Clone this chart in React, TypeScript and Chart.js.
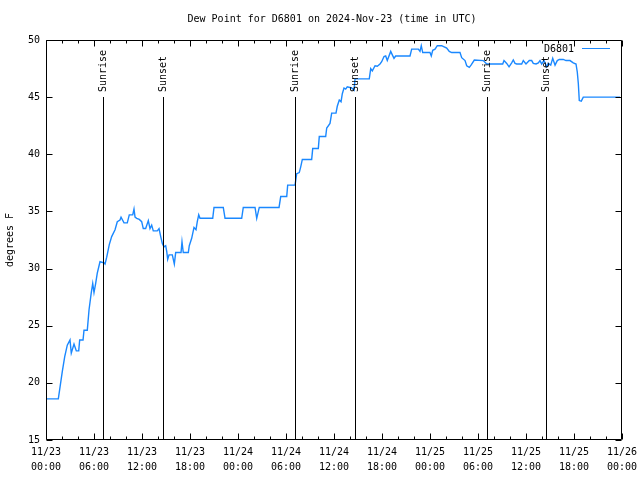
import React, { useEffect, useRef } from "react";
import { Chart, registerables } from "chart.js";

Chart.register(...registerables);

// ---- data (hours since 2024-11-23 00:00 UTC) ----
const hours = [
  0, 1.54, 2.04, 2.34, 2.66, 3.0, 3.16, 3.5, 3.79, 4.09,
  4.21, 4.63, 4.75, 5.16, 5.38, 5.66, 5.84, 6.0, 6.21, 6.41,
  6.75, 7.25, 7.38, 7.59, 7.91, 8.21, 8.63, 8.91, 9.25, 9.38,
  9.75, 10.16, 10.41, 10.84, 11.0, 11.13, 11.34, 11.66, 11.96, 12.16,
  12.46, 12.79, 13.0, 13.21, 13.41, 13.91, 14.13, 14.34, 14.54, 14.75,
  14.96, 15.09, 15.21, 15.38, 15.79, 16.04, 16.21, 16.88, 17.0, 17.16,
  17.79, 17.91, 18.21, 18.5, 18.75, 18.91, 19.09, 19.25, 20.84, 21.0,
  22.16, 22.38, 24.46, 24.66, 26.13, 26.34, 26.66, 29.13, 29.34, 30.09,
  30.21, 31.13, 31.34, 31.66, 31.84, 32.04, 33.21, 33.34, 34.04, 34.16,
  34.96, 35.09, 35.5, 35.71, 36.25, 36.41, 36.66, 36.88, 37.04, 37.25,
  37.46, 37.66, 38.21, 38.5, 38.63, 40.41, 40.59, 40.79, 41.13, 41.41,
  41.75, 41.96, 42.25, 42.46, 42.66, 43.09, 43.29, 43.5, 43.71, 45.5,
  45.71, 46.54, 46.75, 46.91, 47.09, 48.0, 48.16, 48.34, 48.63, 48.91,
  49.46, 50.09, 50.41, 50.71, 51.75, 51.96, 52.38, 52.59, 52.91, 53.13,
  53.54, 54.66, 55.09, 55.5, 57.09, 57.25, 57.59, 57.88, 58.21, 58.41,
  58.63, 58.84, 59.46, 59.66, 60.0, 60.41, 60.71, 60.91, 61.25, 61.54,
  61.75, 61.96, 62.25, 62.59, 62.79, 63.09, 63.34, 63.63, 63.91, 64.16,
  64.66, 65.0, 65.5, 65.91, 66.25, 66.41, 66.54, 66.66, 66.91, 67.16,
  71.75,
];

const dewPoint = [
  18.6, 18.6, 21.0, 22.3, 23.3, 23.75, 22.6, 23.4, 22.8, 22.8,
  23.75, 23.75, 24.6, 24.6, 26.4, 27.9, 28.7, 27.9, 28.7, 29.6,
  30.6, 30.5, 30.4, 31.0, 32.1, 32.8, 33.4, 34.1, 34.25, 34.5,
  34.0, 34.0, 34.7, 34.7, 35.2, 34.5, 34.4, 34.3, 34.1, 33.5,
  33.5, 34.2, 33.5, 33.8, 33.3, 33.3, 33.5, 32.8, 32.2, 31.9,
  32.0, 31.5, 30.8, 31.2, 31.2, 30.4, 31.4, 31.4, 32.35, 31.4,
  31.4, 32.0, 32.65, 33.6, 33.4, 34.1, 34.7, 34.4, 34.4, 35.35,
  35.35, 34.4, 34.4, 35.35, 35.35, 34.4, 35.35, 35.35, 36.3, 36.3,
  37.3, 37.3, 38.3, 38.4, 38.9, 39.55, 39.55, 40.5, 40.5, 41.55,
  41.55, 42.3, 42.7, 43.6, 43.6, 44.2, 44.75, 44.6, 45.3, 45.8,
  45.7, 45.9, 45.8, 45.6, 46.6, 46.6, 47.5, 47.3, 47.75, 47.7,
  47.9, 48.1, 48.55, 48.6, 48.2, 49.0, 48.7, 48.4, 48.6, 48.6,
  49.2, 49.2, 49.0, 49.5, 48.9, 48.9, 48.6, 49.1, 49.2, 49.5,
  49.5, 49.3, 49.0, 48.9, 48.9, 48.45, 48.2, 47.75, 47.6, 47.8,
  48.25, 48.2, 47.9, 47.9, 47.9, 48.2, 47.95, 47.65, 48.0, 48.25,
  47.95, 47.9, 47.9, 48.2, 47.9, 48.2, 48.2, 47.95, 47.9, 48.0,
  48.2, 47.9, 48.2, 47.65, 47.95, 47.8, 48.4, 47.8, 48.2, 48.3,
  48.3, 48.2, 48.2, 48.0, 47.9, 47.2, 46.2, 44.7, 44.65, 45.0,
  45.0,
];

const xTickHours = [0, 6, 12, 18, 24, 30, 36, 42, 48, 54, 60, 66, 72];
const xTickDates = ["11/23", "11/23", "11/23", "11/23", "11/24", "11/24", "11/24", "11/24", "11/25", "11/25", "11/25", "11/25", "11/26"];
const xTickTimes = ["00:00", "06:00", "12:00", "18:00", "00:00", "06:00", "12:00", "18:00", "00:00", "06:00", "12:00", "18:00", "00:00"];
const xMinorStepHours = 2;
const yTicks = [15, 20, 25, 30, 35, 40, 45, 50];

const sunEventHours = [7.15, 14.65, 31.15, 38.65, 55.15, 62.55];
const sunEventLabels = ["Sunrise", "Sunset", "Sunrise", "Sunset", "Sunrise", "Sunset"];
const sunLineTopValue = 45;

const seriesName = "D6801";
const chartTitle = "Dew Point for D6801 on 2024-Nov-23 (time in UTC)";
const yAxisTitle = "degrees F";

const FONT_FAMILY = "'DejaVu Sans Mono', 'Liberation Mono', monospace";
const LINE_COLOR = "#1a88ff";

const decorPlugin = {
  id: "gnuplotDecor",
  afterDraw(chart: any) {
    const ctx = chart.ctx as CanvasRenderingContext2D;
    const area = chart.chartArea;
    const xs = chart.scales.x;
    const ys = chart.scales.y;
    const c = (v: number) => Math.round(v) + 0.5;
    const L = c(area.left);
    const R = Math.round(area.right) - 0.5;
    const T = c(area.top);
    const B = Math.round(area.bottom) - 0.5;

    ctx.save();
    ctx.strokeStyle = "#000";
    ctx.lineWidth = 1;

    // border
    ctx.beginPath();
    ctx.rect(L, T, R - L, B - T);
    ctx.stroke();

    // x ticks (inward, mirrored)
    ctx.beginPath();
    for (let h = xs.min; h <= xs.max + 1e-9; h += xMinorStepHours) {
      const px = c(xs.getPixelForValue(h));
      const len = xTickHours.includes(h) ? 6 : 3;
      ctx.moveTo(px, B);
      ctx.lineTo(px, B - len);
      ctx.moveTo(px, T);
      ctx.lineTo(px, T + len);
    }
    // y ticks (inward, mirrored)
    yTicks.forEach((v) => {
      const py = c(ys.getPixelForValue(v));
      ctx.moveTo(L, py);
      ctx.lineTo(L + 6, py);
      ctx.moveTo(R, py);
      ctx.lineTo(R - 6, py);
    });
    ctx.stroke();

    // sunrise / sunset markers
    const lineTop = Math.round(ys.getPixelForValue(sunLineTopValue));
    ctx.fillStyle = "#000";
    ctx.font = `10px ${FONT_FAMILY}`;
    sunEventHours.forEach((h, i) => {
      const px = c(xs.getPixelForValue(h));
      ctx.beginPath();
      ctx.moveTo(px, B);
      ctx.lineTo(px, lineTop);
      ctx.stroke();
      ctx.save();
      ctx.translate(px, lineTop - 5);
      ctx.rotate(-Math.PI / 2);
      ctx.textAlign = "left";
      ctx.textBaseline = "middle";
      ctx.fillText(sunEventLabels[i], 0, 0);
      ctx.restore();
    });

    // legend
    ctx.font = `10px ${FONT_FAMILY}`;
    ctx.textAlign = "right";
    ctx.textBaseline = "middle";
    ctx.fillStyle = "#000";
    ctx.fillText(seriesName, area.right - 48, area.top + 9);
    ctx.strokeStyle = LINE_COLOR;
    ctx.beginPath();
    ctx.moveTo(area.right - 40, area.top + 8.5);
    ctx.lineTo(area.right - 12, area.top + 8.5);
    ctx.stroke();

    // title
    ctx.fillStyle = "#000";
    ctx.textAlign = "center";
    ctx.textBaseline = "middle";
    ctx.font = `10px ${FONT_FAMILY}`;
    ctx.fillText(chartTitle, (area.left + area.right) / 2 - 2, 19);

    ctx.restore();
  },
};

export default function App() {
  const canvasRef = useRef<HTMLCanvasElement | null>(null);

  useEffect(() => {
    const canvas = canvasRef.current;
    if (!canvas) return;
    const tickFont = { family: FONT_FAMILY, size: 10, lineHeight: 1.5 };
    const chart = new Chart(canvas, {
      type: "line",
      data: {
        datasets: [
          {
            label: seriesName,
            data: hours.map((h, i) => ({ x: h, y: dewPoint[i] })),
            borderColor: LINE_COLOR,
            backgroundColor: LINE_COLOR,
            borderWidth: 1.4,
            pointRadius: 0,
            tension: 0,
            fill: false,
          },
        ],
      },
      options: {
        animation: false,
        responsive: false,
        devicePixelRatio: 1,
        layout: { padding: { left: 0, right: 18, top: 40, bottom: 0 } },
        plugins: {
          legend: { display: false },
          title: { display: false },
          tooltip: { enabled: false },
        },
        scales: {
          x: {
            type: "linear",
            min: 0,
            max: 72,
            afterBuildTicks: (scale: any) => {
              scale.ticks = xTickHours.map((v) => ({ value: v }));
            },
            afterFit: (scale: any) => {
              scale.height = 40;
              scale.paddingLeft = 0;
              scale.paddingRight = 0;
            },
            ticks: {
              autoSkip: false,
              maxRotation: 0,
              minRotation: 0,
              padding: 5,
              color: "#000",
              font: tickFont,
              callback: (v: any) => {
                const i = xTickHours.indexOf(Number(v));
                return i >= 0 ? [xTickDates[i], xTickTimes[i]] : "";
              },
            },
            grid: { display: false, drawTicks: false },
            border: { display: false },
          },
          y: {
            type: "linear",
            min: 15,
            max: 50,
            afterBuildTicks: (scale: any) => {
              scale.ticks = yTicks.map((v) => ({ value: v }));
            },
            afterFit: (scale: any) => {
              scale.width = 46;
              scale.paddingTop = 0;
              scale.paddingBottom = 0;
            },
            ticks: {
              padding: 6,
              color: "#000",
              font: { family: FONT_FAMILY, size: 10 },
            },
            title: {
              display: true,
              text: yAxisTitle,
              color: "#000",
              font: { family: FONT_FAMILY, size: 10 },
              padding: { top: 4, bottom: 0 },
            },
            grid: { display: false, drawTicks: false },
            border: { display: false },
          },
        },
      },
      plugins: [decorPlugin],
    } as any);
    return () => chart.destroy();
  }, []);

  return (
    <div style={{ position: "absolute", left: 0, top: 0, width: 640, height: 480, background: "#fff" }}>
      <canvas ref={canvasRef} width={640} height={480} style={{ display: "block" }} />
    </div>
  );
}
